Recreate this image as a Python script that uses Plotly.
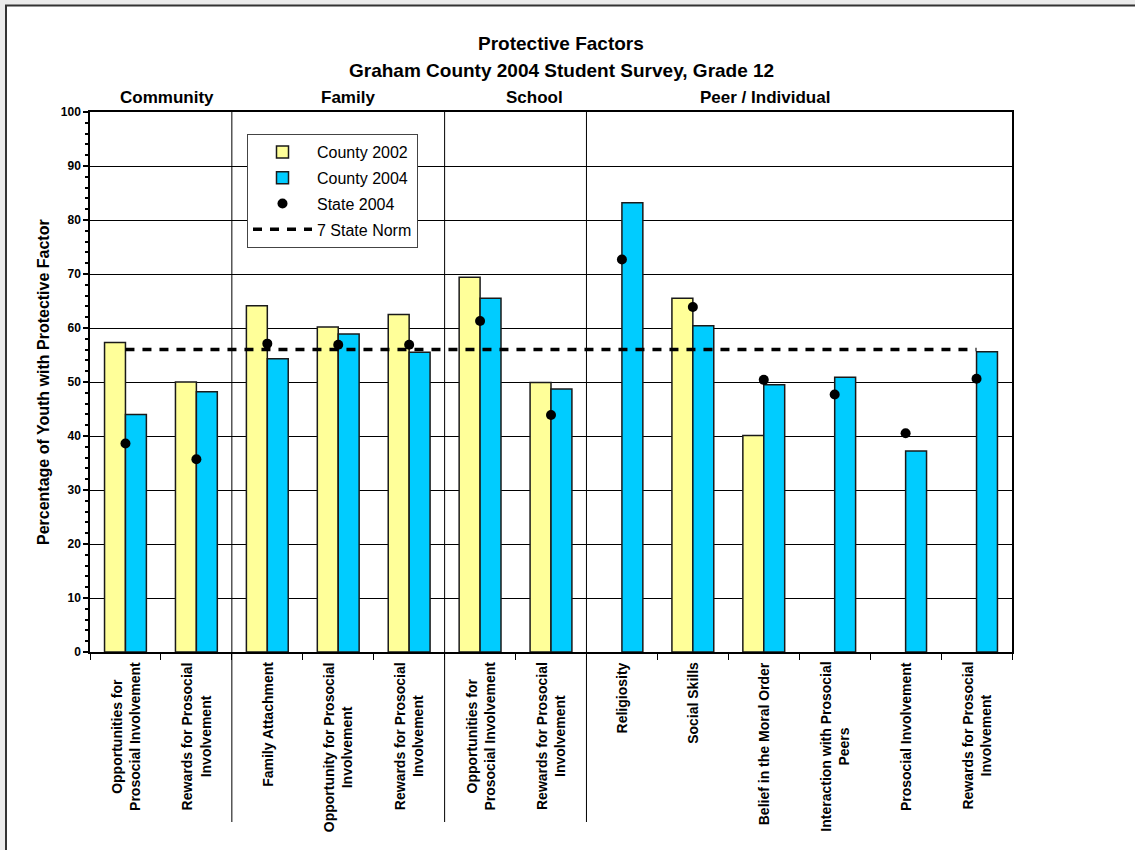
import plotly.graph_objects as go

# ---- data ----
categories = [
    "Opportunities for<br>Prosocial Involvement",
    "Rewards for Prosocial<br>Involvement",
    "Family Attachment",
    "Opportunity for Prosocial<br>Involvement",
    "Rewards for Prosocial<br>Involvement",
    "Opportunities for<br>Prosocial Involvement",
    "Rewards for Prosocial<br>Involvement",
    "Religiosity",
    "Social Skills",
    "Belief in the Moral Order",
    "Interaction with Prosocial<br>Peers",
    "Prosocial Involvement",
    "Rewards for Prosocial<br>Involvement",
]
county_2002 = [57.3, 50.0, 64.1, 60.2, 62.5, 69.4, 49.9, None, 65.5, 40.1, None, None, None]
county_2004 = [44.0, 48.2, 54.3, 58.9, 55.5, 65.5, 48.7, 83.2, 60.4, 49.5, 50.9, 37.2, 55.6]
state_2004 = [38.6, 35.7, 57.1, 56.9, 56.9, 61.3, 43.9, 72.7, 63.9, 50.4, 47.7, 40.5, 50.6]
state_norm = [56, 56, 56, 56, 56, 56, 56, 56, 56, 56, 56, 56, 56]

groups = ["Community", "Family", "School", "Peer / Individual"]
group_label_px = [167, 348, 534, 765]   # label centers (pixels)
group_dividers = [1.5, 4.5, 6.5]       # boundaries between groups

title_lines = ["Protective Factors", "Graham County 2004 Student Survey, Grade 12"]
y_title = "Percentage of Youth with Protective Factor"

FONT = "Liberation Sans, Arial, sans-serif"
W, H = 1135, 850
L, R, T, B = 90, 1012, 112, 652
PW, PH = R - L, B - T

def px_x(px):
    return (px - L) / PW

def px_y(py):
    return (B - py) / PH

xs = list(range(len(categories)))

fig = go.Figure()
fig.add_trace(go.Bar(
    x=xs, y=county_2002, name="County 2002",
    marker=dict(color="#FFFF99", line=dict(color="#1a1a1a", width=1.5)),
    legendrank=1, legendgroup="a",
))
fig.add_trace(go.Bar(
    x=xs, y=county_2004, name="County 2004",
    marker=dict(color="#00CCFF", line=dict(color="#1a1a1a", width=1.5)),
    legendrank=2, legendgroup="b",
))
fig.add_trace(go.Scatter(
    x=xs, y=state_norm, name="7 State Norm", mode="lines",
    line=dict(color="black", width=3.5, dash="9px,8px"),
    legendrank=4, legendgroup="d",
))
fig.add_trace(go.Scatter(
    x=xs, y=state_2004, name="State 2004", mode="markers",
    marker=dict(color="black", size=10, symbol="circle"),
    legendrank=3, legendgroup="c",
))

shapes = []
# chart-area frame (white area with dark border on grey background)
shapes.append(dict(type="rect", xref="paper", yref="paper", layer="below",
                   x0=px_x(6), x1=px_x(1145), y0=px_y(860), y1=px_y(5.5),
                   fillcolor="white", line=dict(color="#333333", width=2)))
# group dividers
for d in group_dividers:
    shapes.append(dict(type="line", xref="x", yref="paper",
                       x0=d, x1=d, y0=px_y(822), y1=1,
                       line=dict(color="black", width=1)))

annotations = []
# titles
for line, py in zip(title_lines, [43, 71]):
    annotations.append(dict(text="<b>%s</b>" % line, x=px_x(561), y=px_y(py),
                            xref="paper", yref="paper", showarrow=False,
                            xanchor="center", yanchor="middle",
                            font=dict(size=19, family=FONT, color="black")))
# group labels
for g, gx in zip(groups, group_label_px):
    annotations.append(dict(text="<b>%s</b>" % g, x=px_x(gx), y=px_y(97),
                            xref="paper", yref="paper", showarrow=False,
                            xanchor="center", yanchor="middle",
                            font=dict(size=17, family=FONT, color="black")))
# y-axis title
annotations.append(dict(text="<b>%s</b>" % y_title, x=px_x(43), y=px_y(382),
                        xref="paper", yref="paper", showarrow=False, textangle=-90,
                        xanchor="center", yanchor="middle",
                        font=dict(size=16, family=FONT, color="black")))
# category labels
for i, c in enumerate(categories):
    annotations.append(dict(text="<b>%s</b>" % c, x=i, xref="x", y=px_y(660),
                            yref="paper", yanchor="top", xanchor="center",
                            showarrow=False, textangle=-90, align="center",
                            font=dict(size=14, family=FONT, color="black")))

fig.update_layout(
    width=W, height=H,
    margin=dict(l=L, r=W - R, t=T, b=H - B, pad=0),
    paper_bgcolor="#ebebeb", plot_bgcolor="white",
    barmode="group", bargap=0.41, bargroupgap=0,
    font=dict(family=FONT, color="black"),
    showlegend=True,
    legend=dict(x=px_x(247), y=px_y(134), xanchor="left", yanchor="top",
                bgcolor="white", bordercolor="#444444", borderwidth=1,
                font=dict(size=16, family=FONT, color="black"),
                tracegroupgap=2, itemwidth=59, traceorder="grouped"),
    xaxis=dict(range=[-0.5, len(categories) - 0.5],
               tickvals=[i - 0.5 for i in range(len(categories) + 1)],
               showticklabels=False, ticks="outside", ticklen=6,
               tickcolor="black", showgrid=False, zeroline=False,
               showline=True, linecolor="black", linewidth=1.5, mirror=True),
    yaxis=dict(range=[0, 100], dtick=10, tick0=0, ticks="outside", ticklen=5,
               tickcolor="black", tickwidth=1.5,
               tickfont=dict(size=12, family=FONT, color="black", weight="bold"),
               showgrid=True, gridcolor="black", gridwidth=1, zeroline=False,
               showline=True, linecolor="black", linewidth=1.5, mirror=True,
               minor=dict(dtick=2, ticks="outside", ticklen=3, tickcolor="black",
                          showgrid=False)),
    shapes=shapes, annotations=annotations,
)

fig.write_html("out.html", config={"displayModeBar": False},
               post_script="document.body.style.margin='0';document.body.style.overflow='hidden';")
